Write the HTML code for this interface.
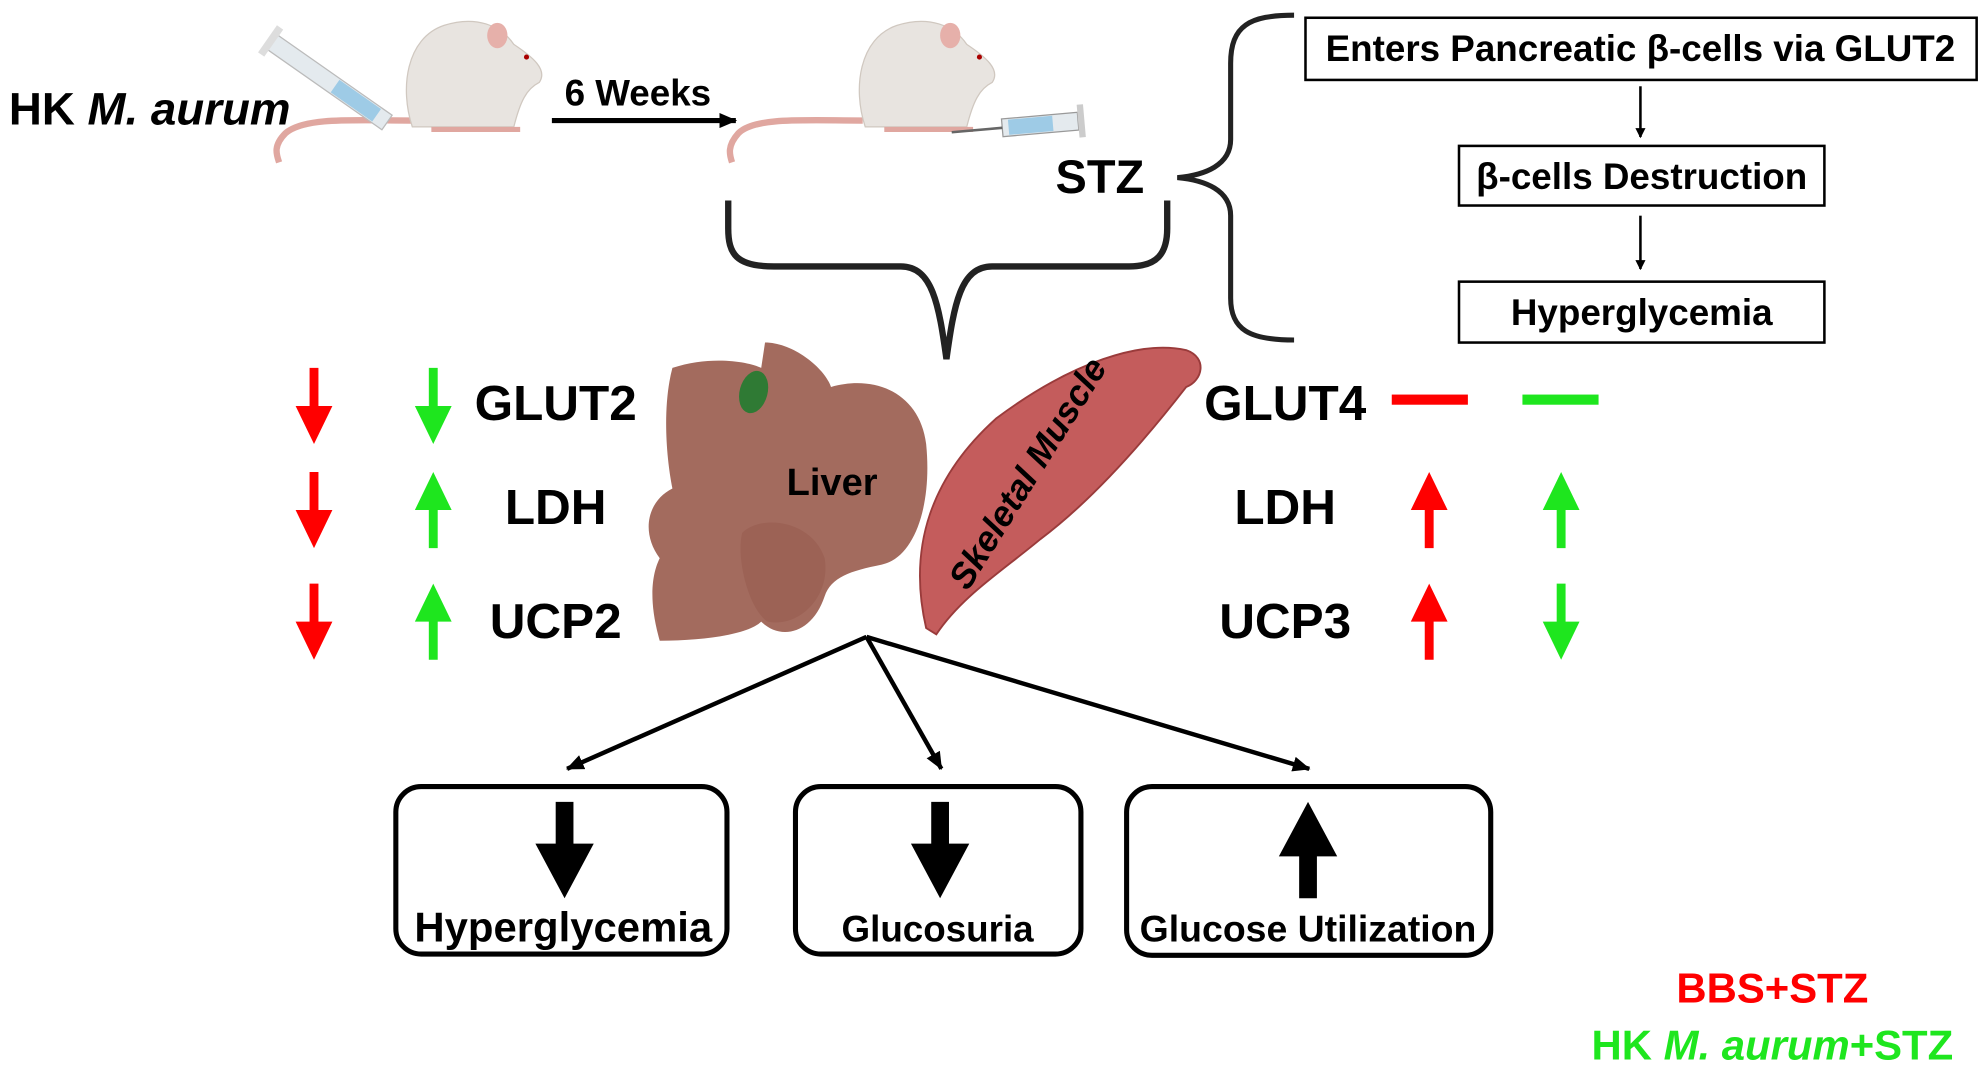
<!DOCTYPE html>
<html><head><meta charset="utf-8"><style>
html,body{margin:0;padding:0;background:#fff;width:1983px;height:1068px;overflow:hidden}
#w{position:absolute;left:0;top:0;width:1563px;height:842px;transform:scale(1.2687);transform-origin:0 0}
svg{position:absolute;left:0;top:0}
text{font-family:"Liberation Sans",sans-serif;font-weight:bold}
</style></head><body><div id="w">
<svg width="1563" height="842" viewBox="0 0 1563 842">
<defs>
<marker id="ah" markerWidth="8" markerHeight="8" refX="7" refY="4" orient="auto" markerUnits="userSpaceOnUse"><path d="M0,0 L8,4 L0,8 z" fill="#000"/></marker>
<marker id="ah2" markerWidth="14" markerHeight="12" refX="13" refY="6" orient="auto" markerUnits="userSpaceOnUse"><path d="M0,0 L14,6 L0,12 z" fill="#000"/></marker>
</defs>
<!-- mouse 1 -->
<g>
<path d="M325,95 C280,95 240,92 225,105 C215,115 218,122 220,128" stroke="#e0a7a0" stroke-width="5" fill="none"/>
<path d="M325,100 C315,70 320,30 350,20 C375,12 395,20 405,35 C420,45 432,55 425,65 C415,70 410,80 405,100 Z" fill="#e8e4e0" stroke="#d0c8c0"/>
<ellipse cx="392" cy="28" rx="8" ry="10" fill="#e6b0aa"/>
<circle cx="415" cy="45" r="2" fill="#a00"/>
<path d="M340,102 L410,102" stroke="#e0a7a0" stroke-width="4"/>
<g transform="rotate(35 260 65)"><rect x="205" y="58" width="110" height="14" fill="#e4eaee" stroke="#bbb"/><rect x="265" y="59" width="40" height="12" fill="#9ecbe6"/><rect x="200" y="52" width="6" height="26" fill="#ddd"/></g>
</g>
<!-- mouse 2 -->
<g>
<path d="M680,95 C635,95 595,92 582,105 C573,115 575,122 577,128" stroke="#e0a7a0" stroke-width="5" fill="none"/>
<path d="M682,100 C672,70 677,30 707,20 C732,12 752,20 762,35 C777,45 789,55 782,65 C772,70 767,80 762,100 Z" fill="#e8e4e0" stroke="#d0c8c0"/>
<ellipse cx="749" cy="28" rx="8" ry="10" fill="#e6b0aa"/>
<circle cx="772" cy="45" r="2" fill="#a00"/>
<path d="M697,102 L767,102" stroke="#e0a7a0" stroke-width="4"/>
<g transform="rotate(-5 810 100)"><rect x="790" y="92" width="60" height="14" fill="#e4eaee" stroke="#999"/><rect x="795" y="93" width="35" height="12" fill="#9ecbe6"/><rect x="850" y="86" width="5" height="26" fill="#ccc"/><line x1="750" y1="99" x2="790" y2="99" stroke="#666" stroke-width="2"/></g>
</g>
<text x="7" y="98" font-size="36">HK <tspan font-style="italic">M. aurum</tspan></text>
<text x="445" y="83" font-size="29">6 Weeks</text>
<line x1="435" y1="95" x2="580" y2="95" stroke="#000" stroke-width="4" marker-end="url(#ah2)"/>
<text x="832" y="152" font-size="37">STZ</text>
<path d="M1020,12 C985,12 970,20 970,50 L970,110 C970,130 950,138 928,140 C950,142 970,150 970,170 L970,235 C970,260 985,268 1020,268" stroke="#222" stroke-width="4" fill="none"/>
<rect x="1029" y="14" width="529" height="49" fill="#fff" stroke="#000" stroke-width="2"/>
<text x="1293" y="48" font-size="29" text-anchor="middle">Enters Pancreatic β-cells via GLUT2</text>
<line x1="1293" y1="68" x2="1293" y2="108" stroke="#000" stroke-width="2" marker-end="url(#ah)"/>
<rect x="1150" y="115" width="288" height="47" fill="#fff" stroke="#000" stroke-width="2"/>
<text x="1294" y="149" font-size="29" text-anchor="middle">β-cells Destruction</text>
<line x1="1293" y1="170" x2="1293" y2="212" stroke="#000" stroke-width="2" marker-end="url(#ah)"/>
<rect x="1150" y="222" width="288" height="48" fill="#fff" stroke="#000" stroke-width="2"/>
<text x="1294" y="256" font-size="29" text-anchor="middle">Hyperglycemia</text>
<path d="M574,158 L574,180 C574,200 580,210 610,210 L710,210 C735,210 740,240 746,283 C752,240 757,210 782,210 L890,210 C912,210 920,200 920,180 L920,158" stroke="#222" stroke-width="5" fill="none"/>
<g fill="#a36b5e">
<path d="M530,290 C560,280 590,285 600,290 L603,270 C625,270 650,290 655,305 C690,295 725,310 730,350 C735,400 720,440 695,445 C670,450 655,455 650,470 C640,500 615,505 600,490 C590,500 555,505 520,505 C510,470 515,450 520,440 C505,420 510,395 530,385 C525,360 522,320 530,290 Z"/>
<path d="M585,420 C600,405 640,410 650,440 C655,470 630,495 605,490 C590,480 580,440 585,420 Z" fill="#9c6255"/>
</g>
<ellipse cx="594" cy="309" rx="11" ry="17" fill="#2f7a34" transform="rotate(15 594 309)"/>
<text x="620" y="390" font-size="30">Liver</text>
<path d="M730,495 C715,430 735,375 785,330 C845,285 900,268 935,276 C952,282 948,300 935,305 C900,350 860,395 820,425 C790,450 758,470 738,500 Z" fill="#c45c5c" stroke="#9a3b3b" stroke-width="1.5"/>
<text transform="translate(818,378) rotate(-58)" font-size="28" text-anchor="middle" font-style="italic">Skeletal Muscle</text>
<g>
<path d="M244,290 h7 v30 h11 l-14.5,30 l-14.5,-30 h11 z" fill="#f00"/>
<path d="M338,290 h7 v30 h11 l-14.5,30 l-14.5,-30 h11 z" fill="#1ee61e"/>
<path d="M244,372 h7 v30 h11 l-14.5,30 l-14.5,-30 h11 z" fill="#f00"/>
<path d="M338,432 h7 v-30 h11 l-14.5,-30 l-14.5,30 h11 z" fill="#1ee61e"/>
<path d="M244,460 h7 v30 h11 l-14.5,30 l-14.5,-30 h11 z" fill="#f00"/>
<path d="M338,520 h7 v-30 h11 l-14.5,-30 l-14.5,30 h11 z" fill="#1ee61e"/>
</g>
<text x="438" y="331" font-size="39" text-anchor="middle">GLUT2</text>
<text x="438" y="413" font-size="39" text-anchor="middle">LDH</text>
<text x="438" y="503" font-size="39" text-anchor="middle">UCP2</text>
<text x="1013" y="331" font-size="39" text-anchor="middle">GLUT4</text>
<text x="1013" y="413" font-size="39" text-anchor="middle">LDH</text>
<text x="1013" y="503" font-size="39" text-anchor="middle">UCP3</text>
<rect x="1097" y="311" width="60" height="8" fill="#f00"/>
<rect x="1200" y="311" width="60" height="8" fill="#1ee61e"/>
<path d="M1123,432 h7 v-30 h11 l-14.5,-30 l-14.5,30 h11 z" fill="#f00"/>
<path d="M1227,432 h7 v-30 h11 l-14.5,-30 l-14.5,30 h11 z" fill="#1ee61e"/>
<path d="M1123,520 h7 v-30 h11 l-14.5,-30 l-14.5,30 h11 z" fill="#f00"/>
<path d="M1227,460 h7 v30 h11 l-14.5,30 l-14.5,-30 h11 z" fill="#1ee61e"/>
<g stroke="#000" stroke-width="3.5" fill="none">
<line x1="683" y1="502" x2="447" y2="606" marker-end="url(#ah2)"/>
<line x1="683" y1="502" x2="742" y2="606" marker-end="url(#ah2)"/>
<line x1="683" y1="502" x2="1032" y2="606" marker-end="url(#ah2)"/>
</g>
<g fill="#fff" stroke="#000" stroke-width="4">
<rect x="312" y="620" width="261" height="132" rx="20"/>
<rect x="627" y="620" width="225" height="132" rx="20"/>
<rect x="888" y="620" width="287" height="133" rx="20"/>
</g>
<path d="M438,632 h14 v33 h16 l-23,43 l-23,-43 h16 z" fill="#000"/>
<path d="M734,632 h14 v33 h16 l-23,43 l-23,-43 h16 z" fill="#000"/>
<path d="M1024,708 h14 v-33 h16 l-23,-43 l-23,43 h16 z" fill="#000"/>
<text x="444" y="742" font-size="33" text-anchor="middle">Hyperglycemia</text>
<text x="739" y="742" font-size="29" text-anchor="middle">Glucosuria</text>
<text x="1031" y="742" font-size="29.5" text-anchor="middle">Glucose Utilization</text>
<text x="1397" y="790" font-size="33" text-anchor="middle" fill="#f00">BBS+STZ</text>
<text x="1397" y="835" font-size="33" text-anchor="middle" fill="#1ee61e">HK <tspan font-style="italic">M. aurum</tspan>+STZ</text>
</svg>
</div></body></html>
